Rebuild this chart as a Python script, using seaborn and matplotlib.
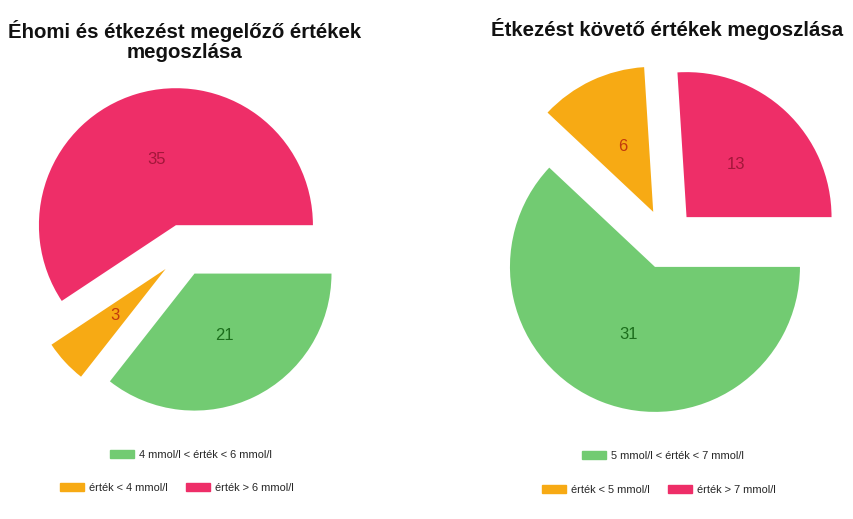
import matplotlib
matplotlib.use("Agg")
import matplotlib.pyplot as plt
import matplotlib.patches as mpatches
import seaborn as sns

sns.set_theme(style="white")
plt.rcParams['font.family'] = ['Liberation Sans', 'DejaVu Sans']

# data
left_title = "Éhomi és étkezést megelőző értékek\nmegoszlása"
right_title = "Étkezést követő értékek megoszlása"
left_labels = ["4 mmol/l < érték < 6 mmol/l", "érték < 4 mmol/l", "érték > 6 mmol/l"]
right_labels = ["5 mmol/l < érték < 7 mmol/l", "érték < 5 mmol/l", "érték > 7 mmol/l"]
left_values = [21, 3, 35]
right_values = [31, 6, 13]

colors = ["#72cb72", "#f7aa14", "#ee2e68"]
text_colors = ["#1c6e1c", "#c23a0c", "#a3173a"]

W, H = 854, 519
fig = plt.figure(figsize=(W / 100, H / 100), dpi=100)


def draw_pie(ax, values, cx, cy, r, off, x0):
    # 1 data unit = r pixels, pie centred at (cx, cy) in image px
    wedges, texts, autotexts = ax.pie(
        values, colors=colors, startangle=0, counterclock=False,
        explode=[o / r for o in off], radius=1, pctdistance=0.5,
        autopct=lambda p: "%d" % round(p * sum(values) / 100.0),
        wedgeprops=dict(linewidth=0), frame=False,
        textprops=dict(fontsize=12))
    for t, c in zip(autotexts, text_colors):
        t.set_color(c)
    ax.set_xlim(-(cx - x0) / r, (x0 + 427 - cx) / r)
    ax.set_ylim(-(H - cy) / r, cy / r)
    ax.set_aspect("auto")
    ax.axis("off")


ax1 = fig.add_axes([0, 0, 0.5, 1])
draw_pie(ax1, left_values, 184, 252, 137, [24, 25, 28], 0)
ax2 = fig.add_axes([0.5, 0, 0.5, 1])
draw_pie(ax2, right_values, 666, 239, 145, [30, 30, 30], 427)

fig.text(185 / W, 1 - 41 / H, left_title, ha="center", va="center",
         fontsize=14.7, fontweight="bold", linespacing=1.08, color="#111111")
fig.text(667 / W, 1 - 29 / H, right_title, ha="center", va="center",
         fontsize=14.7, fontweight="bold", color="#111111")


def add_legends(ax, labels, x_row1, x_row2, y1, y2):
    h = [mpatches.Patch(color=c) for c in colors]
    kw = dict(frameon=False, fontsize=7.9, handlelength=2.2, handleheight=0.8,
              handletextpad=0.5, borderaxespad=0, borderpad=0)
    lg1 = ax.legend([h[0]], [labels[0]], loc="center",
                    bbox_to_anchor=(x_row1 / W, 1 - y1 / H),
                    bbox_transform=fig.transFigure, **kw)
    ax.add_artist(lg1)
    ax.legend([h[1], h[2]], [labels[1], labels[2]], loc="center", ncol=2,
              columnspacing=1.6, bbox_to_anchor=(x_row2 / W, 1 - y2 / H),
              bbox_transform=fig.transFigure, **kw)


add_legends(ax1, left_labels, 191, 177, 455, 488)
add_legends(ax2, right_labels, 663, 659, 456, 490)

fig.savefig("out.png", dpi=100, facecolor="white")
